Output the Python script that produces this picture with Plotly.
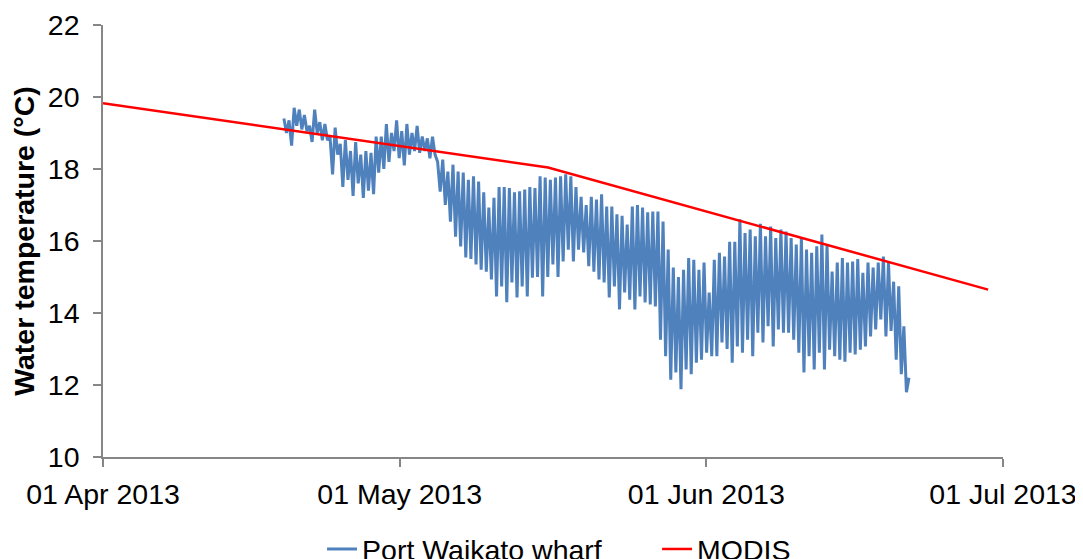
import pandas as pd
import plotly.graph_objects as go

# Port Waikato wharf: successive tidal highs and lows (deg C)
port_hi = [19.4, 19.35, 19.7, 19.65, 19.5, 19.2, 19.65, 19.3, 19.25, 18.9,
           19.15, 18.7, 18.8, 18.5, 18.75, 18.4, 18.5, 18.45, 18.9, 18.9,
           19.25, 19.0, 19.35, 19.05, 19.25, 19.0, 19.2, 18.9, 18.85, 18.9,
           18.2, 18.26, 17.93, 18.12, 17.93, 17.9, 17.7, 17.8, 17.65, 17.35,
           16.93, 17.2, 17.5, 17.5, 17.47, 17.35, 17.38, 17.43, 17.5, 17.47,
           17.8, 17.76, 17.7, 17.76, 17.8, 17.85, 17.8, 17.5, 17.23, 17.0,
           17.23, 17.15, 17.3, 16.96, 16.96, 16.74, 16.7, 16.46, 16.96, 17.0,
           16.93, 16.8, 16.82, 16.82, 16.54, 15.76, 15.26, 15.0, 15.2, 15.53,
           15.48, 15.2, 15.4, 14.57, 15.48, 15.67, 15.57, 15.98, 15.98, 16.6,
           16.22, 16.32, 16.13, 16.48, 16.13, 16.4, 16.08, 16.32, 16.26, 16.08,
           15.9, 16.08, 15.76, 15.67, 15.85, 16.18, 15.9, 15.15, 15.4, 15.53,
           15.4, 15.43, 15.5, 15.12, 15.4, 15.26, 15.4, 15.57, 15.4, 14.87,
           14.74, 13.63]
port_lo = [19.0, 18.65, 19.2, 19.1, 19.05, 18.75, 19.0, 18.8, 18.8, 17.85,
           18.4, 17.5, 17.7, 17.25, 17.6, 17.2, 17.4, 17.3, 17.9, 18.0,
           18.2, 18.5, 18.3, 18.1, 18.4, 18.5, 18.45, 18.5, 18.3, 18.4,
           17.37, 17.0, 16.54, 16.12, 15.85, 15.54, 15.5, 15.35, 15.2, 15.15,
           14.93, 14.46, 14.74, 14.3, 14.85, 14.43, 14.74, 14.46, 14.98, 15.0,
           14.46, 15.0, 15.35, 15.0, 15.43, 15.76, 15.43, 15.76, 15.68, 15.3,
           15.15, 14.93, 14.85, 14.43, 14.74, 14.1, 14.57, 14.37, 14.1, 14.46,
           14.29, 14.24, 14.18, 13.26, 12.8, 12.15, 12.35, 11.88, 12.43, 12.3,
           12.62, 12.7, 12.9, 12.8, 12.8, 13.18, 13.0, 12.62, 13.07, 12.9,
           13.26, 12.8, 13.45, 13.18, 13.63, 13.07, 13.54, 13.45, 13.45, 13.26,
           12.9, 12.35, 12.8, 12.43, 12.9, 12.43, 12.98, 12.8, 12.7, 12.65,
           12.9, 12.85, 12.98, 13.07, 13.35, 13.54, 13.82, 13.35, 13.5, 12.7,
           12.3, 11.8, 12.2]
port_start = "2013-04-19 07:00"
port_step = "373min"  # half a tidal cycle between logged extremes

# MODIS composite values
modis_dates = ["2013-04-01", "2013-05-16", "2013-06-29 12:00"]
modis_vals = [19.83, 18.04, 14.65]

# Axis
x_ticks = ["2013-04-01", "2013-05-01", "2013-06-01", "2013-07-01"]
y_ticks = [10, 12, 14, 16, 18, 20, 22]

port_vals = []
for i in range(len(port_lo)):
    if i < len(port_hi):
        port_vals.append(port_hi[i])
    port_vals.append(port_lo[i])
port_times = pd.date_range(port_start, periods=len(port_vals), freq=port_step)

FONT = "Liberation Sans, Arial, sans-serif"
AX = "#868686"
FS = 28.5

fig = go.Figure()
fig.add_trace(go.Scatter(x=port_times, y=port_vals, mode="lines",
                         name="Port Waikato wharf",
                         line=dict(color="#4F81BD", width=3)))
fig.add_trace(go.Scatter(x=modis_dates, y=modis_vals, mode="lines",
                         name="MODIS",
                         line=dict(color="#FF0000", width=2.5)))

fig.update_layout(
    width=1083, height=559,
    margin=dict(l=95, r=88, t=17, b=110, autoexpand=False),
    paper_bgcolor="white", plot_bgcolor="white",
    font=dict(family=FONT, size=FS, color="#000000"),
    showlegend=True,
    legend=dict(orientation="h", x=0.2434, xanchor="left", y=-0.155, yanchor="top",
                font=dict(size=FS), entrywidth=290, entrywidthmode="pixels",
                traceorder="normal"),
)
fig.update_xaxes(
    type="date", range=["2013-04-01", "2013-07-01"],
    tickvals=x_ticks, tickformat="%d %b %Y",
    showline=True, linecolor=AX, linewidth=1.5,
    ticks="outside", ticklen=8, tickcolor=AX, tickwidth=1.5,
    showgrid=False, zeroline=False, ticklabelstandoff=3,
    tickfont=dict(size=FS),
)
fig.update_yaxes(
    range=[10, 22], tickvals=y_ticks,
    showline=True, linecolor=AX, linewidth=1.5,
    ticks="outside", ticklen=8, tickcolor=AX, tickwidth=1.5,
    showgrid=False, zeroline=False, ticklabelstandoff=8,
    tickfont=dict(size=FS),
    title=dict(text="<b>Water temperature (°C)</b>", font=dict(size=FS), standoff=10),
)

fig.write_html("out.html")
